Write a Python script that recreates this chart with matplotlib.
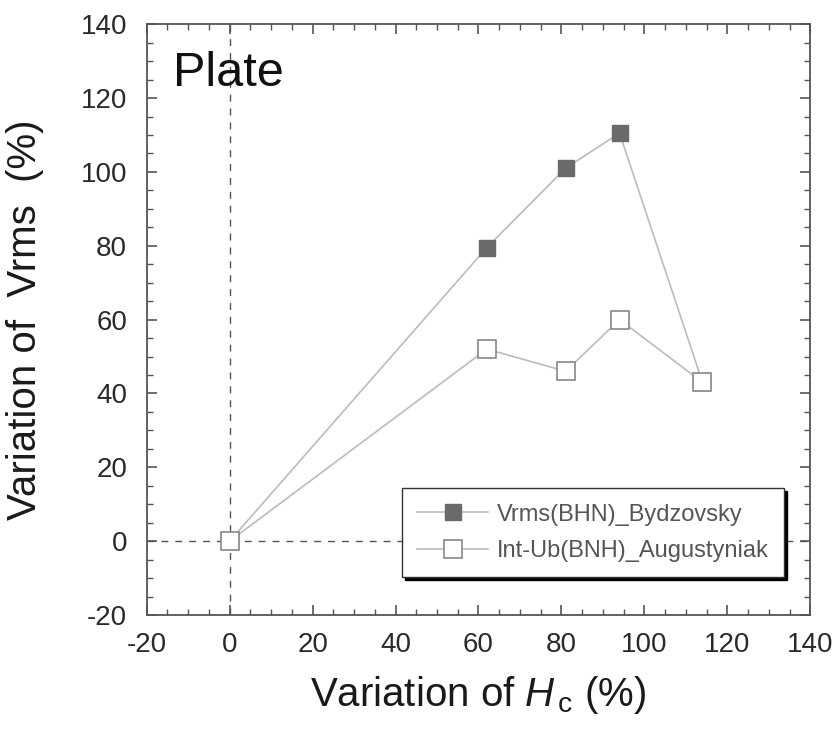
import matplotlib
matplotlib.use("Agg")
import matplotlib.pyplot as plt
from matplotlib.ticker import MultipleLocator

plt.rcParams['font.family'] = ['Liberation Sans', 'DejaVu Sans']
plt.rcParams['mathtext.fontset'] = 'custom'
plt.rcParams['mathtext.rm'] = 'Liberation Sans'
plt.rcParams['mathtext.it'] = 'Liberation Sans:italic'
plt.rcParams['axes.unicode_minus'] = False

hc_var = [0, 62, 81, 94, 114]
vrms_bydzovsky = [0, 79.5, 101, 110.5, 43]
intub_augustyniak = [0, 52, 46, 60, 43]
series_labels = ["Vrms(BHN)_Bydzovsky", "Int-Ub(BNH)_Augustyniak"]
x_ticks = [-20, 0, 20, 40, 60, 80, 100, 120, 140]
y_ticks = [-20, 0, 20, 40, 60, 80, 100, 120, 140]

fig = plt.figure(figsize=(8.38, 7.33), dpi=100)
ax = fig.add_axes([0.175, 0.161, 0.792, 0.806])

ax.axvline(0, color='#555555', lw=1.0, ls=(0, (5, 5)), zorder=1)
ax.axhline(0, color='#555555', lw=1.0, ls=(0, (5, 5)), zorder=1)

ax.plot(hc_var, vrms_bydzovsky, color='#bbbbbb', lw=1.2, marker='s', ms=11,
        mfc='#6a6a6a', mec='#6a6a6a', label=series_labels[0], zorder=3)
ax.plot(hc_var, intub_augustyniak, color='#bbbbbb', lw=1.2, marker='s', ms=13,
        mfc='white', mec='#888888', mew=1.2, label=series_labels[1], zorder=4)

ax.set_xlim(-20, 140)
ax.set_ylim(-20, 140)
ax.set_xticks(x_ticks)
ax.set_yticks(y_ticks)
ax.xaxis.set_minor_locator(MultipleLocator(5))
ax.yaxis.set_minor_locator(MultipleLocator(5))
ax.tick_params(which='both', direction='in', top=True, right=True, colors='#555555',
               labelcolor='#2a2a2a')
ax.tick_params(which='major', length=7, width=1.2, labelsize=20)
ax.tick_params(axis='x', which='major', pad=12)
ax.tick_params(axis='y', which='major', pad=14)
ax.tick_params(which='minor', length=4, width=1.0)
for s in ax.spines.values():
    s.set_color('#555555')
    s.set_linewidth(1.3)

ax.set_xlabel("Variation of $\\mathit{H}_{\\,\\mathrm{c}}$ (%)", fontsize=29, color='#1a1a1a')
ax.set_ylabel("Variation of  Vrms  (%)", fontsize=29, color='#1a1a1a')
ax.xaxis.set_label_coords(0.5, -0.1)
ax.yaxis.set_label_coords(-0.155, 0.5)

ax.text(0.04, 0.955, "Plate", transform=ax.transAxes, fontsize=35, va='top', ha='left', color='#111111')

leg = ax.legend(loc='lower right', bbox_to_anchor=(0.96, 0.064), fontsize=17,
                frameon=True, fancybox=False, shadow={'color': 'black', 'alpha': 1.0},
                borderpad=0.65, labelspacing=0.6, handlelength=3.0, handletextpad=0.35,
                borderaxespad=0, markerscale=1.0)
leg.get_frame().set_edgecolor('#333333')
leg.get_frame().set_linewidth(1.0)
leg.get_frame().set_alpha(1.0)
for t in leg.get_texts():
    t.set_color('#555555')

fig.savefig("out.png", dpi=100)
